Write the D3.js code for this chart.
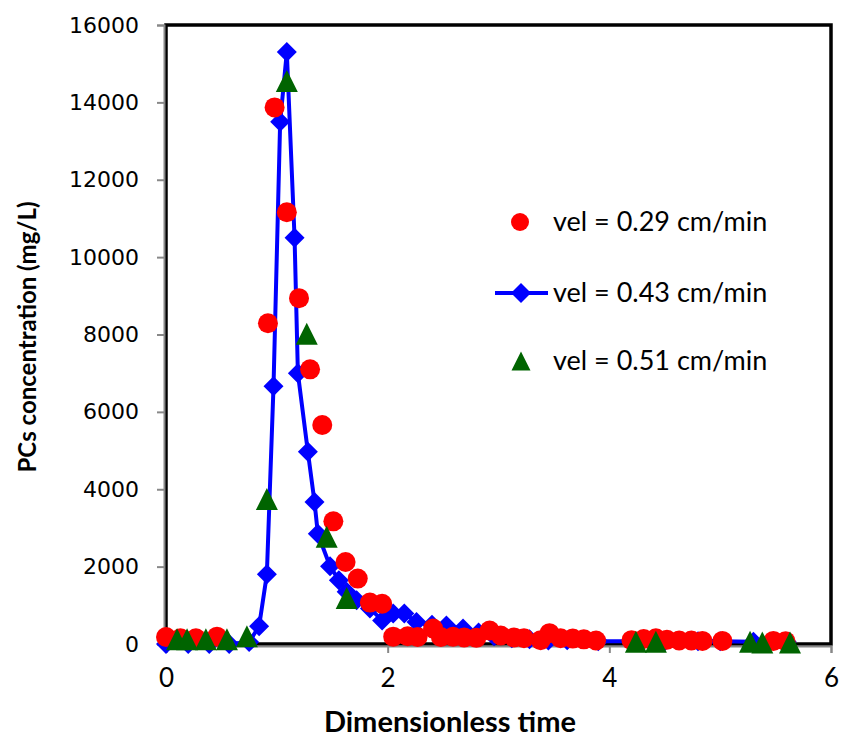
<!DOCTYPE html>
<html>
<head>
<meta charset="utf-8">
<script src="https://cdn.jsdelivr.net/npm/d3@7"></script>
<style>
  body { margin: 0; background: #fff; }
  svg { display: block; }
</style>
</head>
<body>
<div id="chart"></div>
<script>
    // series
    var redX = [0, 0.13, 0.27, 0.46, 0.92, 0.98, 1.09, 1.20, 1.30, 1.41, 1.51, 1.62, 1.73, 1.84, 1.95,
        2.05, 2.18, 2.27, 2.41, 2.48, 2.59, 2.69, 2.80, 2.92, 3.02, 3.14, 3.23, 3.38, 3.46, 3.56, 3.67, 3.77, 3.88,
        4.20, 4.31, 4.42, 4.52, 4.63, 4.74, 4.84, 5.02, 5.48, 5.59]
    var redY = [180, 150, 150, 190, 8290, 13870, 11160, 8940, 7100, 5660, 3170, 2120, 1690, 1070, 1040,
        190, 200, 180, 400, 180, 190, 170, 160, 350, 220, 170, 150, 100, 280, 150, 140, 120, 90,
        100, 130, 150, 110, 90, 90, 80, 80, 80, 70]

    var blueX = [0, 0.2, 0.39, 0.57, 0.75, 0.84, 0.91, 0.97, 1.03, 1.09, 1.16, 1.19, 1.28, 1.34, 1.37, 1.48,
        1.56, 1.63, 1.72, 1.84, 1.95, 2.05, 2.15, 2.26, 2.40, 2.53, 2.68, 2.82, 2.96, 3.12, 3.28, 3.45, 3.62,
        3.90, 4.20, 4.50, 4.80, 5.00, 5.30, 5.60]
    var blueY = [0, 0, 0, 0, 50, 460, 1800, 6660, 13500, 15300, 10500, 7000, 4970, 3670, 2850, 2010,
        1650, 1350, 1130, 920, 610, 790, 790, 570, 500, 480, 400, 300, 200, 150, 120, 90, 100,
        70, 70, 70, 70, 70, 60, 60]

    var greenX = [0.10, 0.19, 0.36, 0.55, 0.73, 0.91, 1.09, 1.27, 1.45, 1.63, 4.24, 4.42, 5.27, 5.38, 5.63]
    var greenY = [120, 120, 120, 120, 200, 3750, 14550, 8020, 2770, 1190, 60, 60, 60, 40, 40]

    var xTicks = [0, 2, 4, 6]
    var yTicks = [0, 2000, 4000, 6000, 8000, 10000, 12000, 14000, 16000]
    var seriesNames = ["vel = 0.29 cm/min", "vel = 0.43 cm/min", "vel = 0.51 cm/min"]

    var width = 841, height = 738
    // plot area edges (note: "top" is taken by window.top)
    var plotL = 166, plotR = 831, plotT = 25, plotB = 644

    var svg = d3.select("#chart").append("svg")
        .attr("width", width)
        .attr("height", height)
        .style("background", "#fff")

    var x = d3.scaleLinear().domain([0, 6]).range([plotL, plotR])
    var y = d3.scaleLinear().domain([0, 16000]).range([plotB, plotT])

    function zip(xs, ys) {
        return xs.map((v, i) => ({x: v, y: ys[i]}))
    }

    // plot area frame
    svg.append("rect")
        .attr("x", plotL).attr("y", plotT)
        .attr("width", plotR - plotL).attr("height", plotB - plotT)
        .attr("fill", "none")
        .attr("stroke", "#000")
        .attr("stroke-width", 3.5)

    // axes (gray, ticks outside)
    var yAxis = svg.append("g")
        .attr("transform", `translate(${plotL - 2},0)`)
        .call(d3.axisLeft(y).tickValues(yTicks).tickSize(7).tickPadding(18).tickFormat(d3.format("d")))
    var xAxis = svg.append("g")
        .attr("transform", `translate(0,${plotB + 2})`)
        .call(d3.axisBottom(x).tickValues(xTicks).tickSize(7).tickPadding(16).tickFormat(d3.format("d")))

    ;[yAxis, xAxis].forEach(function(ax) {
        ax.select(".domain").attr("stroke", "#888").attr("stroke-width", 2)
        ax.selectAll(".tick line").attr("stroke", "#888").attr("stroke-width", 2)
        ax.selectAll("text").attr("fill", "#000")
    })
    yAxis.selectAll("text").style("font-family", "'DejaVu Sans', sans-serif").style("font-size", "22px")
    xAxis.selectAll("text").style("font-family", "Lato, sans-serif").style("font-size", "26px")

    // markers
    var diamond = d3.symbol().type(d3.symbolSquare).size(200)
    function triangle(cx, cy, s) {
        var h = s
        return `M${cx},${cy - h/2}L${cx + s/2},${cy + h/2}L${cx - s/2},${cy + h/2}Z`
    }

    var line = d3.line().x(d => x(d.x)).y(d => y(d.y))
    var blue = zip(blueX, blueY)
    svg.append("path")
        .datum(blue)
        .attr("d", line)
        .attr("fill", "none")
        .attr("stroke", "#0000ff")
        .attr("stroke-width", 4)
        .attr("stroke-linejoin", "round")
    svg.append("g").selectAll("path")
        .data(blue)
        .join("path")
            .attr("d", diamond)
            .attr("transform", d => `translate(${x(d.x)},${y(d.y)}) rotate(45)`)
            .attr("fill", "#0000ff")

    svg.append("g").selectAll("circle")
        .data(zip(redX, redY))
        .join("circle")
            .attr("cx", d => x(d.x))
            .attr("cy", d => y(d.y))
            .attr("r", 10)
            .attr("fill", "#ff0000")

    svg.append("g").selectAll("path")
        .data(zip(greenX, greenY))
        .join("path")
            .attr("d", d => triangle(x(d.x), y(d.y), 22))
            .attr("fill", "#006400")

    // legend
    var legend = svg.append("g")
    var legendY = [222, 293, 361]
    legend.append("circle").attr("cx", 520).attr("cy", legendY[0]).attr("r", 9).attr("fill", "#ff0000")
    legend.append("line")
        .attr("x1", 495).attr("x2", 548).attr("y1", legendY[1]).attr("y2", legendY[1])
        .attr("stroke", "#0000ff").attr("stroke-width", 4)
    legend.append("path").attr("d", diamond).attr("transform", `translate(521,${legendY[1]}) rotate(45)`).attr("fill", "#0000ff")
    legend.append("path").attr("d", triangle(521, legendY[2], 19)).attr("fill", "#006400")
    legend.selectAll("text")
        .data(seriesNames)
        .join("text")
            .attr("x", 553)
            .attr("y", (d, i) => legendY[i])
            .attr("dy", "0.35em")
            .style("font-family", "Lato, sans-serif")
            .style("font-size", "27px")
            .text(d => d)

    // axis titles
    svg.append("text")
        .attr("x", 450).attr("y", 722)
        .attr("dy", "0.35em")
        .attr("text-anchor", "middle")
        .style("font-family", "Lato, sans-serif")
        .style("font-weight", "bold")
        .style("font-size", "29px")
        .text("Dimensionless time")
    svg.append("text")
        .attr("transform", "translate(28,337) rotate(-90)")
        .attr("dy", "0.35em")
        .attr("text-anchor", "middle")
        .style("font-family", "Lato, sans-serif")
        .style("font-weight", "bold")
        .style("font-size", "24px")
        .text("PCs concentration (mg/L)")
</script>
</body>
</html>
